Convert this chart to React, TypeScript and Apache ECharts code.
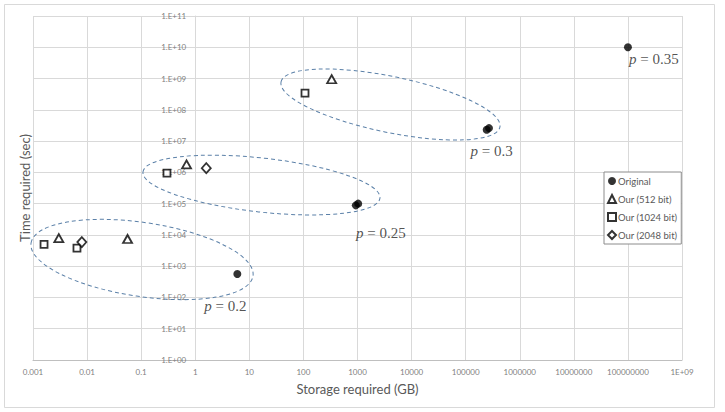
import React, { useEffect, useRef } from "react";
import * as echarts from "echarts";

// Storage (GB) and time (sec) for each scheme
const originalStorage = [6, 930, 1030, 2.45e5, 2.7e5, 1e8];
const originalTime = [560, 8.8e4, 1.0e5, 2.3e7, 2.6e7, 1e10];
// which original points carry a p label, and the label values
const labelledIndex = [0, 1, 3, 5];
const pValues = ["0.2", "0.25", "0.3", "0.35"];

const our512Storage = [0.003, 0.056, 0.69, 333];
const our512Time = [7900, 7400, 1.8e6, 9.5e8];

const our1024Storage = [0.0016, 0.0065, 0.3, 107];
const our1024Time = [5000, 3800, 9.4e5, 3.4e8];

const our2048Storage = [0.008, 1.6];
const our2048Time = [5900, 1.36e6];

const xTickLabels = [
  "0.001", "0.01", "0.1", "1", "10", "100", "1000", "10000", "100000",
  "1000000", "10000000", "100000000", "1E+09",
];
const yTickLabels = [
  "1.E+00", "1.E+01", "1.E+02", "1.E+03", "1.E+04", "1.E+05",
  "1.E+06", "1.E+07", "1.E+08", "1.E+09", "1.E+10", "1.E+11",
];

// Dashed groupings: major-axis end points (storage, time) and minor semi-axis in px
const groupEllipses = [
  [0.00092, 5500, 11.7, 486, 37],
  [0.108, 1.03e6, 2600, 1.5e5, 27],
  [38.5, 7.8e8, 4.3e5, 2.8e7, 28],
];

const GRID = { left: 33, right: 43, top: 16, bottom: 52 };
const W = 725;
const H = 412;
const plotW = W - GRID.left - GRID.right;
const X_MIN_EXP = -3;
const Y_MIN_EXP = 0;

const pair = (xs: number[], ys: number[]) => xs.map((x, i) => [x, ys[i]]);
const decadeIndex = (v: number, minExp: number) =>
  Math.round(Math.log10(v)) - minExp;

const labelOffsets = [
  [-12, 32],
  [25, 28],
  [5, 21],
  [26, 12],
];

export default function App() {
  const ref = useRef<HTMLDivElement>(null);

  useEffect(() => {
    if (!ref.current) return;
    const chart = echarts.init(ref.current, null, { renderer: "svg" });

    const originalData = pair(originalStorage, originalTime).map((v, i) => {
      const k = labelledIndex.indexOf(i);
      if (k < 0) return { value: v };
      return {
        value: v,
        label: {
          show: true,
          position: "inside",
          offset: labelOffsets[k],
          formatter: `{p|p}{t| = ${pValues[k]}}`,
          rich: {
            p: {
              fontFamily: "Liberation Serif",
              fontStyle: "italic",
              fontSize: 15,
              color: "#262626",
            },
            t: { fontFamily: "Liberation Serif", fontSize: 15, color: "#262626" },
          },
        },
      };
    });

    const hollow = {
      color: "#ffffff",
      borderColor: "#000000",
      borderWidth: 1.8,
    };

    chart.setOption({
      animation: false,
      backgroundColor: "#ffffff",
      textStyle: { fontFamily: "Lato" },
      graphic: [
        {
          type: "rect",
          shape: { x: 4.5, y: 4.5, width: 710, height: 403 },
          style: { fill: "none", stroke: "#d9d9d9", lineWidth: 1 },
          silent: true,
          z: -10,
        },
      ],
      grid: { ...GRID, containLabel: false },
      legend: {
        left: 604,
        top: 172,
        orient: "vertical",
        data: ["Original", "Our (512 bit)", "Our (1024 bit)", "Our (2048 bit)"],
        itemWidth: 8,
        itemHeight: 8,
        itemGap: 6,
        padding: [3, 4, 3, 3],
        borderColor: "#8c8c8c",
        borderWidth: 1,
        backgroundColor: "#ffffff",
        textStyle: {
          fontFamily: "Lato",
          fontSize: 9.5,
          color: "#595959",
          lineHeight: 12,
          padding: [0, 0, 0, -3],
        },
      },
      xAxis: {
        type: "log",
        logBase: 10,
        min: 0.001,
        max: 1e9,
        interval: 1,
        name: "Storage required (GB)",
        nameLocation: "middle",
        nameGap: 22,
        nameTextStyle: { fontFamily: "Lato", fontSize: 13, color: "#595959" },
        axisLine: { lineStyle: { color: "#bfbfbf", width: 1 } },
        axisTick: { show: false },
        axisLabel: {
          interval: 0,
          margin: 8,
          fontSize: 8,
          color: "#7f7f7f",
          showMinLabel: true,
          showMaxLabel: true,
          formatter: (v: number) => xTickLabels[decadeIndex(v, X_MIN_EXP)] ?? "",
        },
        splitLine: { show: true, lineStyle: { color: "#d9d9d9", width: 1 } },
        minorTick: { show: false },
      },
      yAxis: {
        type: "log",
        logBase: 10,
        min: 1,
        max: 1e11,
        interval: 1,
        offset: -(plotW * 3) / 12,
        name: "Time required (sec)",
        nameLocation: "middle",
        nameGap: 164,
        nameTextStyle: { fontFamily: "Lato", fontSize: 13, color: "#595959" },
        axisLine: { show: true, lineStyle: { color: "#d9d9d9", width: 1 } },
        axisTick: { show: false },
        axisLabel: {
          interval: 0,
          margin: 9,
          fontSize: 8,
          color: "#7f7f7f",
          showMinLabel: true,
          showMaxLabel: true,
          formatter: (v: number) => yTickLabels[decadeIndex(v, Y_MIN_EXP)] ?? "",
        },
        splitLine: { show: true, lineStyle: { color: "#d9d9d9", width: 1 } },
      },
      series: [
        {
          type: "custom",
          name: "groups",
          clip: false,
          silent: true,
          encode: { x: [0, 2], y: [1, 3] },
          data: groupEllipses,
          renderItem: (_params: any, api: any) => {
            const p1 = api.coord([api.value(0), api.value(1)]);
            const p2 = api.coord([api.value(2), api.value(3)]);
            const dx = p2[0] - p1[0];
            const dy = p2[1] - p1[1];
            return {
              type: "ellipse",
              x: (p1[0] + p2[0]) / 2,
              y: (p1[1] + p2[1]) / 2,
              rotation: -Math.atan2(dy, dx),
              shape: { cx: 0, cy: 0, rx: Math.hypot(dx, dy) / 2, ry: api.value(4) },
              style: {
                fill: "none",
                stroke: "#5b80a8",
                lineWidth: 1,
                lineDash: [4, 3],
              },
            };
          },
          z: 1,
        },
        {
          type: "scatter",
          name: "Original",
          symbol: "circle",
          symbolSize: 8,
          itemStyle: { color: "#000000" },
          data: originalData,
          z: 5,
        },
        {
          type: "scatter",
          name: "Our (512 bit)",
          symbol: "triangle",
          symbolSize: [9, 8],
          itemStyle: hollow,
          data: pair(our512Storage, our512Time),
          z: 4,
        },
        {
          type: "scatter",
          name: "Our (1024 bit)",
          symbol: "rect",
          symbolSize: 7,
          itemStyle: hollow,
          data: pair(our1024Storage, our1024Time),
          z: 4,
        },
        {
          type: "scatter",
          name: "Our (2048 bit)",
          symbol: "diamond",
          symbolSize: [9, 10],
          itemStyle: hollow,
          data: pair(our2048Storage, our2048Time),
          z: 4,
        },
      ],
    });

    return () => chart.dispose();
  }, []);

  return (
    <div
      ref={ref}
      style={{
        position: "fixed",
        left: 0,
        top: 0,
        width: W,
        height: H,
        background: "#ffffff",
      }}
    />
  );
}
